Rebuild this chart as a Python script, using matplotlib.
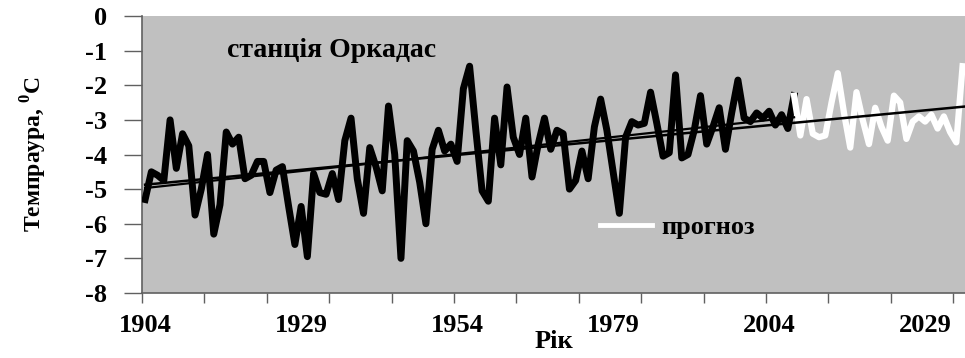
import numpy as np
import matplotlib
matplotlib.use("Agg")
import matplotlib.pyplot as plt
from matplotlib.lines import Line2D

plt.rcParams['font.family'] = ['Liberation Serif', 'DejaVu Serif']
plt.rcParams['font.weight'] = 'bold'
plt.rcParams['axes.unicode_minus'] = False
plt.rcParams['mathtext.fontset'] = 'custom'
plt.rcParams['mathtext.bf'] = 'Liberation Serif:bold'
plt.rcParams['mathtext.rm'] = 'Liberation Serif'

# observed series, station Orcadas
obs_years = np.arange(1904, 2009)
obs_temp = [
    -5.3, -4.5, -4.6, -4.75, -3.0, -4.4, -3.4, -3.75, -5.75, -5.0,      # 1904-1913
    -4.0, -6.3, -5.45, -3.35, -3.7, -3.5, -4.7, -4.6, -4.2, -4.2,       # 1914-1923
    -5.1, -4.45, -4.35, -5.5, -6.6, -5.5, -6.95, -4.55, -5.1, -5.15,    # 1924-1933
    -4.55, -5.3, -3.6, -2.95, -4.7, -5.7, -3.8, -4.35, -5.05, -2.6,     # 1934-1943
    -4.0, -7.0, -3.6, -3.9, -4.8, -6.0, -3.85, -3.3, -3.9, -3.7,        # 1944-1953
    -4.2, -2.1, -1.45, -3.3, -5.05, -5.35, -2.95, -4.3, -2.05, -3.5,    # 1954-1963
    -4.0, -2.95, -4.65, -3.7, -2.95, -3.85, -3.3, -3.4, -5.0, -4.75,    # 1964-1973
    -3.9, -4.7, -3.2, -2.4, -3.3, -4.5, -5.7, -3.5, -3.05, -3.15,       # 1974-1983
    -3.1, -2.2, -3.1, -4.05, -3.95, -1.7, -4.1, -4.0, -3.3, -2.3,       # 1984-1993
    -3.7, -3.2, -2.65, -3.85, -2.8, -1.85, -2.95, -3.05, -2.8, -2.95,   # 1994-2003
    -2.75, -3.15, -2.85, -3.25, -2.3,                                   # 2004-2008
]

# forecast series
fc_years = np.arange(2008, 2036)
fc_temp = [
    -2.3, -3.45, -2.4, -3.4, -3.5, -3.45, -2.5, -1.65, -2.8, -3.8,      # 2008-2017
    -2.2, -3.0, -3.7, -2.65, -3.2, -3.6, -2.3, -2.5, -3.55, -3.05,      # 2018-2027
    -2.9, -3.05, -2.85, -3.25, -2.9, -3.35, -3.65, -1.45,               # 2028-2035
]

label_years = [1904, 1929, 1954, 1979, 2004, 2029]
yticks = np.arange(-8, 1, 1)

fig = plt.figure(figsize=(9.65, 3.58), dpi=100)
ax = fig.add_axes([142 / 965, 1 - 293 / 358, 823 / 965, 277 / 358])
ax.set_facecolor('#c0c0c0')

ax.plot(obs_years, obs_temp, color='black', lw=5, solid_joinstyle='round', zorder=3)
ax.plot(fc_years, fc_temp, color='white', lw=4.5, solid_joinstyle='round', zorder=3)

# linear trends
k1 = np.polyfit(obs_years, obs_temp, 1)
ax.plot(obs_years, np.polyval(k1, obs_years), color='black', lw=1.6, zorder=4)
all_years = np.concatenate([obs_years, fc_years[1:]])
all_temp = np.concatenate([obs_temp, fc_temp[1:]])
k2 = np.polyfit(all_years, all_temp, 1)
tx = np.array([1904, 2036])
ax.plot(tx, np.polyval(k2, tx), color='black', lw=1.8, zorder=4)

ax.set_xlim(1903.5, 1903.5 + 823 / 6.24)
ax.set_ylim(-8, 0)

ax.set_xticks(np.arange(1903.5, 2036, 10))
ax.set_xticklabels([])
ax.set_xticks(label_years, minor=True)
ax.set_xticklabels([str(y) for y in label_years], minor=True, fontsize=19, fontweight='bold')
ax.tick_params(axis='x', which='major', length=7, width=1, color='#606060', direction='out')
ax.tick_params(axis='x', which='minor', length=0, pad=15)

ax.set_yticks(yticks)
ax.set_yticklabels([str(v) for v in yticks], fontsize=19, fontweight='bold')
ax.tick_params(axis='y', length=13, width=1, color='#606060', pad=12)

for s in ['top', 'right']:
    ax.spines[s].set_visible(False)
for s in ['left', 'bottom']:
    ax.spines[s].set_color('#606060')
    ax.spines[s].set_linewidth(1.2)

ax.set_xlabel('Рік', fontsize=19, fontweight='bold', labelpad=-5)
ax.set_ylabel(r'Темпраура, $^{\mathbf{0}}$C', fontsize=17, fontweight='bold', labelpad=26)

ax.text(0.103, 0.877, 'станція Оркадас', transform=ax.transAxes,
        fontsize=20, fontweight='bold', ha='left', va='center')

handle = Line2D([], [], color='white', lw=3.5)
ax.legend([handle], ['прогноз'], loc='center left', bbox_to_anchor=(0.556, 0.238),
          frameon=False, borderpad=0, borderaxespad=0, handlelength=2.0,
          handletextpad=0.35, prop={'weight': 'bold', 'size': 19})

fig.savefig('out.png', dpi=100)
